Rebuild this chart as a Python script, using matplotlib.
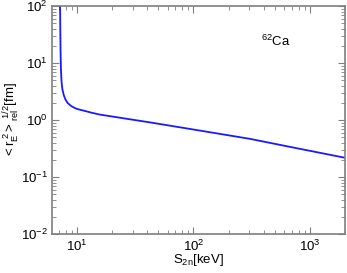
import matplotlib
matplotlib.use('Agg')
import matplotlib.pyplot as plt
from matplotlib.ticker import LogLocator, NullFormatter

plt.rcParams['font.family'] = ['Liberation Sans', 'DejaVu Sans']
plt.rcParams['mathtext.fontset'] = 'custom'
plt.rcParams['mathtext.rm'] = 'Liberation Sans'
plt.rcParams['mathtext.it'] = 'Liberation Sans'

# S2n [keV] and rms radius [fm]
s2n = [7.15, 7.18, 7.22, 7.28, 7.36, 7.48, 7.69, 7.95, 8.3, 8.8, 9.4, 10, 11.8,
       13.5, 15.7, 22.8, 42.4, 114, 305, 673, 2000]
rrel = [100, 40, 15, 7.5, 4.7, 3.5, 2.75, 2.3, 2.0, 1.8, 1.66, 1.57, 1.44,
        1.34, 1.25, 1.11, 0.912, 0.655, 0.47, 0.34, 0.219]

GRAY = '#7f7f7f'

fig = plt.figure(figsize=[3.47, 2.73], dpi=100)
ax = fig.add_axes([0.150, 0.142, 0.844, 0.836])
ax.plot(s2n, rrel, color='#1a1aff', lw=1.3)
ax.set_xscale('log')
ax.set_yscale('log')
ax.set_xlim(6.1, 2000)
ax.set_ylim(1e-2, 1e2)

ax.xaxis.set_major_locator(LogLocator(base=10, numticks=10))
ax.xaxis.set_minor_locator(LogLocator(base=10, subs=range(2, 10), numticks=10))
ax.yaxis.set_major_locator(LogLocator(base=10, numticks=10))
ax.yaxis.set_minor_locator(LogLocator(base=10, subs=range(2, 10), numticks=10))
ax.xaxis.set_minor_formatter(NullFormatter())
ax.yaxis.set_minor_formatter(NullFormatter())

ax.tick_params(which='both', direction='in', top=True, right=True, color=GRAY, labelsize=9.5, pad=3)
ax.tick_params(which='major', length=5)
ax.tick_params(which='minor', length=3)
for sp in ax.spines.values():
    sp.set_color(GRAY)
    sp.set_linewidth(1.2)

ax.set_xlabel(r'$\mathrm{S_{2n}}$[keV]', fontsize=9.5, labelpad=-1)
ax.set_ylabel(r'$\mathrm{<r_{E}^{\ 2}>_{rel}^{\ 1/2}}$[fm]', fontsize=9.5, labelpad=-1)
ax.text(0.714, 0.826, r'$^{62}$Ca', transform=ax.transAxes, fontsize=9.5)

fig.savefig('out.png', dpi=100)
